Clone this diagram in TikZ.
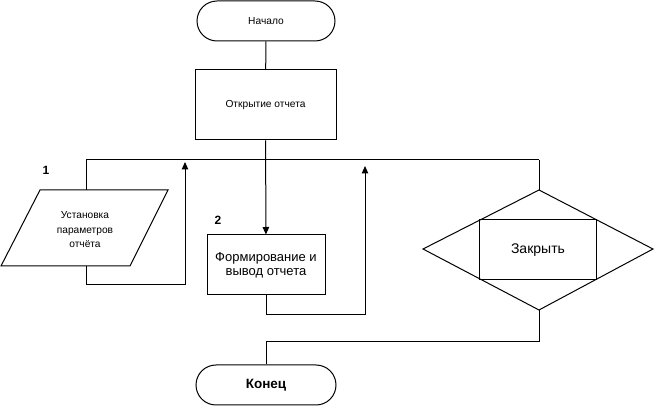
\documentclass[tikz,border=0pt]{standalone}
\usepackage{fontspec}
\setmainfont{Liberation Sans}
\usetikzlibrary{arrows.meta}
\begin{document}
\begin{tikzpicture}[x=1pt,y=-1pt,
  line width=1pt,
  every node/.style={font=\fontsize{13}{14}\selectfont, align=center, inner sep=0pt},
  terminal/.style={draw, rounded corners=20pt, minimum width=#1, minimum height=40pt},
  small/.style={font=\fontsize{10.2}{14.5}\selectfont},
  flow/.style={-{Triangle[length=7.5pt,width=6.5pt]}},
  numlabel/.style={font=\bfseries\fontsize{12}{14}\selectfont}]
\useasboundingbox (0,0) rectangle (657,406);

% terminals and process blocks
\node[terminal=138pt, small] (start) at (266,21) {Начало};
\node[draw, minimum width=141pt, minimum height=70pt, small] (open) at (265.5,105) {Открытие отчета};
\node[draw, minimum width=118pt, minimum height=60pt] (form) at (266,265) {Формирование и\\вывод отчета};
\node[terminal=140pt, font=\bfseries\fontsize{13.5}{14}\selectfont] (stop) at (266,385) {Конец};

% input parallelogram
\coordinate (pTL) at (40,190);
\coordinate (pTR) at (168,190);
\coordinate (pBR) at (130,266);
\coordinate (pBL) at (1,266);
\draw (pTL) -- (pTR) -- (pBR) -- (pBL) -- cycle;
\node[small] (params) at (85,230) {Установка\\параметров\\отчёта};
\coordinate (pTop) at (86,190);
\coordinate (pBot) at (86,266);

% decision diamond with inner block
\coordinate (dT) at (539,190);
\coordinate (dR) at (653,249);
\coordinate (dB) at (539,310);
\coordinate (dL) at (423,249);
\draw (dT) -- (dR) -- (dB) -- (dL) -- cycle;
\node[draw, minimum width=117pt, minimum height=60pt, font=\fontsize{14}{16}\selectfont] (close) at (538,250) {Закрыть};

% number labels
\node[numlabel] (n1) at (46,170) {1};
\node[numlabel] (n2) at (218,220) {2};

% bus line and loop corners
\coordinate (busL) at (86,160);
\coordinate (busR) at (539,160);
\coordinate (loop1) at (185,285);
\coordinate (loop1end) at (185,162);
\coordinate (loop2) at (365,315);
\coordinate (loop2end) at (365,166);
\coordinate (merge) at (266,342);

% connectors
\draw (start) -- (open);
\draw[flow] (open) -- (form);
\draw (busL) -- (busR);
\draw (busL) -- (pTop);
\draw (busR) -- (dT);
\draw[flow] (pBot) |- (loop1) -- (loop1end);
\draw[flow] (form.south) |- (loop2) -- (loop2end);
\draw (dB) |- (merge) -- (stop);
\end{tikzpicture}
\end{document}
